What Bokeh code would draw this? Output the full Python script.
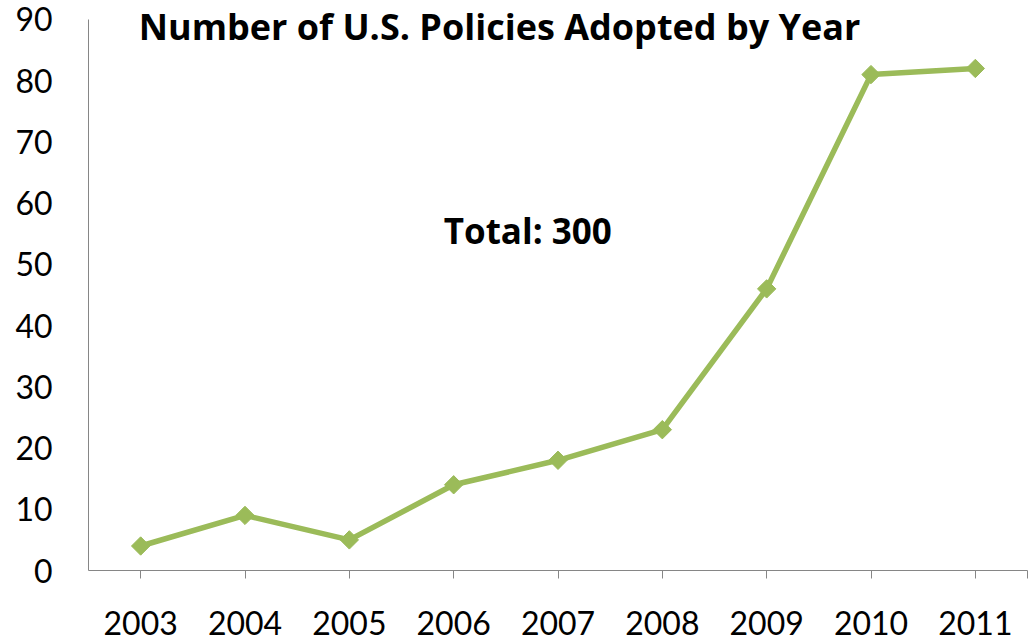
import math
from bokeh.plotting import figure
from bokeh.models import FixedTicker, Range1d, Label, CustomJSTickFormatter
from bokeh.embed import file_html
from bokeh.resources import INLINE

years = [2003, 2004, 2005, 2006, 2007, 2008, 2009, 2010, 2011]
policies = [4, 9, 5, 14, 18, 23, 46, 81, 82]
y_ticks = [0, 10, 20, 30, 40, 50, 60, 70, 80, 90]
title_text = "Number of U.S. Policies Adopted by Year"
total_text = "Total: 300"

GREEN = "#9BBB59"
AXIS = "#868686"
FONT = "Lato"
BFONT = "Open Sans"

p = figure(width=1033, height=641, output_backend="svg", toolbar_location=None,
           x_range=Range1d(years[0] - 0.5, years[-1] + 0.5), y_range=Range1d(0, 93.1),
           min_border_left=88, min_border_right=6, min_border_top=0, min_border_bottom=71)
p.outline_line_color = None
p.grid.grid_line_color = None
p.background_fill_color = "white"
p.border_fill_color = "white"

p.line(years, policies, line_color=GREEN, line_width=5.5)
p.scatter(years, policies, marker="square", size=13, angle=math.pi / 4,
          fill_color=GREEN, line_color=GREEN)

# x axis
xa = p.xaxis[0]
xa.ticker = FixedTicker(ticks=years + [years[-1] + 0.5])
xa.formatter = CustomJSTickFormatter(code="return (tick % 1 === 0) ? tick.toString() : '';")
xa.axis_line_color = AXIS
xa.major_tick_line_color = AXIS
xa.major_tick_in = 0
xa.major_tick_out = 8
xa.minor_tick_line_color = None
xa.major_label_standoff = 32
xa.major_label_text_font = FONT
xa.major_label_text_font_size = "32px"
xa.major_label_text_color = "black"

# y axis
ya = p.yaxis[0]
ya.ticker = FixedTicker(ticks=y_ticks)
ya.bounds = (0, 90)
ya.axis_line_color = AXIS
ya.major_tick_line_color = None
ya.major_tick_in = 0
ya.major_tick_out = 0
ya.minor_tick_line_color = None
ya.major_label_standoff = 36
ya.major_label_text_font = FONT
ya.major_label_text_font_size = "32px"
ya.major_label_text_color = "black"

p.add_layout(Label(x=2006.44, y=88.8, text=title_text, text_align="center", text_baseline="middle",
                   text_font=BFONT, text_font_style="bold", text_font_size="36px", text_color="black"))
p.add_layout(Label(x=2006.71, y=55.5, text=total_text, text_align="center", text_baseline="middle",
                   text_font=BFONT, text_font_style="bold", text_font_size="35px", text_color="black"))

open("out.html", "w").write(file_html(p, INLINE))
